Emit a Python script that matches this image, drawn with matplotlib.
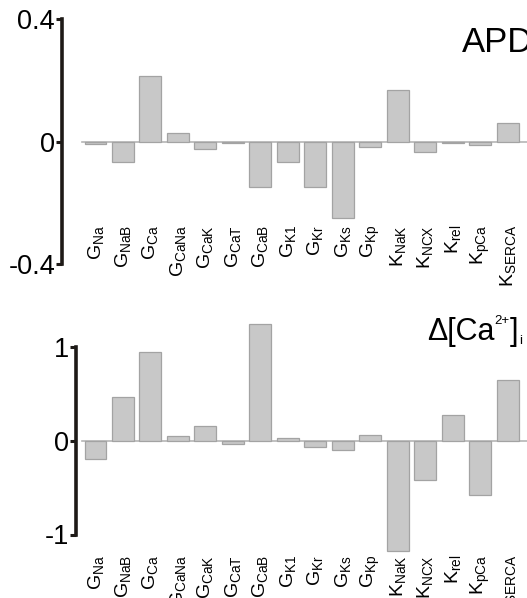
import matplotlib
matplotlib.use("Agg")
import matplotlib.pyplot as plt
import numpy as np

plt.rcParams['font.family'] = ['Liberation Sans', 'DejaVu Sans']
plt.rcParams['mathtext.fontset'] = 'custom'
plt.rcParams['mathtext.rm'] = 'Liberation Sans'
plt.rcParams['mathtext.it'] = 'Liberation Sans'
plt.rcParams['mathtext.bf'] = 'Liberation Sans:bold'

categories = [("G", "Na"), ("G", "NaB"), ("G", "Ca"), ("G", "CaNa"), ("G", "CaK"),
              ("G", "CaT"), ("G", "CaB"), ("G", "K1"), ("G", "Kr"), ("G", "Ks"),
              ("G", "Kp"), ("K", "NaK"), ("K", "NCX"), ("K", "rel"), ("K", "pCa"),
              ("K", "SERCA")]
apd_values = [-0.006, -0.065, 0.214, 0.029, -0.023, -0.003, -0.149, -0.066,
              -0.147, -0.251, -0.018, 0.168, -0.035, -0.003, -0.012, 0.061]
ca_values = [-0.198, 0.466, 0.942, 0.050, 0.157, -0.035, 1.241, 0.025,
             -0.071, -0.096, 0.064, -1.18, -0.415, 0.270, -0.576, 0.647]
apd_ticks = [-0.4, 0, 0.4]
apd_ticklabels = ["-0.4", "0", "0.4"]
ca_ticks = [-1, 0, 1]
ca_ticklabels = ["-1", "0", "1"]

W, H = 527, 598
fig = plt.figure(figsize=(W / 100, H / 100), dpi=100)

# horizontal mapping: bar i center at 95.5 + i*27.47 px
px_per_unit = 27.47
x0_px = 95.5
x_left_px = 62
x_right_data = 16.6
x_left_data = (x_left_px - x0_px) / px_per_unit
right_px = x0_px + x_right_data * px_per_unit

bar_color = "#c8c8c8"
edge_color = "#a3a3a3"
spine_color = "#1e1a17"

def make_panel(top_px, bot_px, zero_px, unit_px, values, ticks, ticklabels,
               spine_px, label_top_px):
    ax = fig.add_axes([x_left_px / W, 1 - bot_px / H,
                       (right_px - x_left_px) / W, (bot_px - top_px) / H])
    ymax = (zero_px - top_px) / unit_px
    ymin = (zero_px - bot_px) / unit_px
    ax.set_xlim(x_left_data, x_right_data)
    ax.set_ylim(ymin, ymax)
    x = np.arange(len(values))
    ax.bar(x, values, width=0.8, color=bar_color, edgecolor=edge_color,
           linewidth=0.9, zorder=2)
    zl = (82 - x0_px) / px_per_unit
    ax.plot([zl, x_right_data], [0, 0], color="#b5b5b5", lw=1.2, zorder=1)
    for s in ["top", "right", "bottom"]:
        ax.spines[s].set_visible(False)
    ax.spines["left"].set_position(("data", (spine_px - x0_px) / px_per_unit))
    ax.spines["left"].set_bounds(ticks[0], ticks[-1])
    ax.spines["left"].set_linewidth(2.6)
    ax.spines["left"].set_color(spine_color)
    ax.set_yticks(ticks)
    ax.set_yticklabels(ticklabels, fontsize=19.5)
    ax.tick_params(axis="y", direction="out", length=4, width=2.2,
                   color=spine_color, pad=1)
    ax.set_xticks([])
    label_y = (zero_px - label_top_px) / unit_px
    for i, (base, sub) in enumerate(categories):
        ax.text(i, label_y, r"$\mathregular{%s_{%s}}$" % (base, sub),
                rotation=90, ha="center", va="top", fontsize=14)
    ax.patch.set_visible(False)
    return ax

make_panel(0, 290, 141.7, 305.8, apd_values, apd_ticks, apd_ticklabels, 62, 225)
make_panel(300, 598, 440.7, 93.8, ca_values, ca_ticks, ca_ticklabels, 76, 555)

fig.text(462 / W, 1 - 52 / H, "APD", fontsize=25, ha="left", va="baseline")

# Δ[Ca2+]i composed from pieces
renderer = fig.canvas.get_renderer()
pieces = [("Δ[Ca", 22, 0, 0.0), ("2+", 9.5, 16, 0.0), ("]", 22, 0, 1.0), ("i", 9.5, -4, 0.0)]
cur_x = 427.0
base_y = 340.0
for txt, size, dy, gap in pieces:
    t = fig.text(cur_x / W, 1 - (base_y - dy) / H, txt, fontsize=size,
                 ha="left", va="baseline")
    bb = t.get_window_extent(renderer=renderer)
    cur_x += bb.width + gap

fig.savefig("out.png", dpi=100)
